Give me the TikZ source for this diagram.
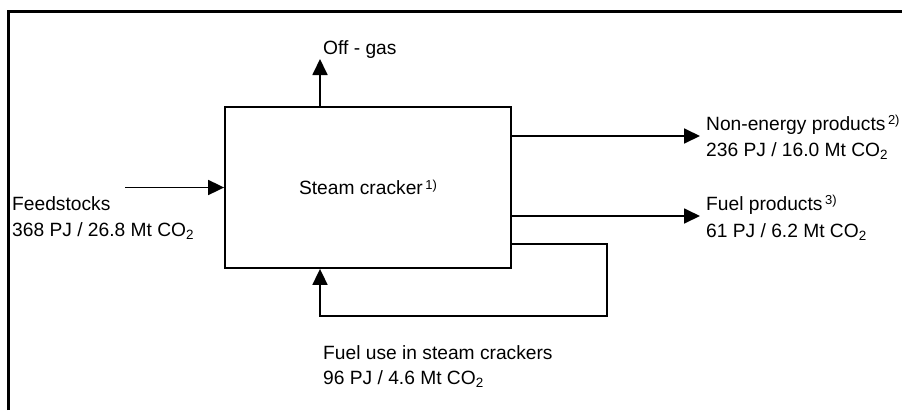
\documentclass[tikz,border=0pt]{standalone}
\usepackage{fontspec}
\setmainfont{Liberation Sans}
\usetikzlibrary{arrows.meta,positioning,calc}
\definecolor{ink}{RGB}{0,0,0}
\tikzset{
  >={Triangle[length=16pt,width=15pt]},
  unit/.style={draw=ink,line width=1.8pt,minimum width=286pt,minimum height=161pt,
    inner sep=0pt,text=ink},
  flow/.style={->,line width=1.8pt,draw=ink},
  frame/.style={line width=3pt,draw=ink},
  lbl/.style={anchor=base west,inner sep=0pt,text=ink},
}
\newcommand{\fnote}[1]{\hspace{2.5pt}\raisebox{0.5ex}{\fontsize{13}{15}\selectfont #1}}

\begin{document}
\begin{tikzpicture}[x=1pt,y=-1pt,font=\fontsize{19.2}{23}\selectfont]
    \useasboundingbox (0,0) rectangle (902,410);
    \draw[frame] (8,410) -- (8,11) -- (902,11);
    \node[unit] (cracker) at (368,187.5) {Steam cracker\fnote{1)}};
    \coordinate (feedin) at (125,187.5);
    \coordinate (gasout) at (320,59);
    \coordinate (neout) at (700,136);
    \coordinate (fuelout) at (700,216);
    \coordinate (loopa) at (607,244);
    \coordinate (loopb) at (320,316);
    \draw[flow] (feedin) -- (cracker.west);
    \draw[flow] (cracker.north -| gasout) -- (gasout);
    \draw[flow] (cracker.east |- neout) -- (neout);
    \draw[flow] (cracker.east |- fuelout) -- (fuelout);
    \draw[flow] (cracker.east |- loopa) -- (loopa) -- (loopb -| loopa) -- (loopb) -- (cracker.south -| loopb);
    \node[lbl] (offgas) at (323,54) {Off - gas};
    \node[lbl] (feedname) at (12,210) {Feedstocks};
    \node[lbl] (feedval) at (12,236) {368 PJ / 26.8 Mt CO\textsubscript{2}};
    \node[lbl] (nename) at (706,130) {Non-energy products\fnote{2)}};
    \node[lbl] (neval) at (706,156) {236 PJ / 16.0 Mt CO\textsubscript{2}};
    \node[lbl] (fuelname) at (706,210) {Fuel products\fnote{3)}};
    \node[lbl] (fuelval) at (706,237) {61 PJ / 6.2 Mt CO\textsubscript{2}};
    \node[lbl] (usename) at (323,359) {Fuel use in steam crackers};
    \node[lbl] (useval) at (323,384) {96 PJ / 4.6 Mt CO\textsubscript{2}};
  \end{tikzpicture}
\end{document}
